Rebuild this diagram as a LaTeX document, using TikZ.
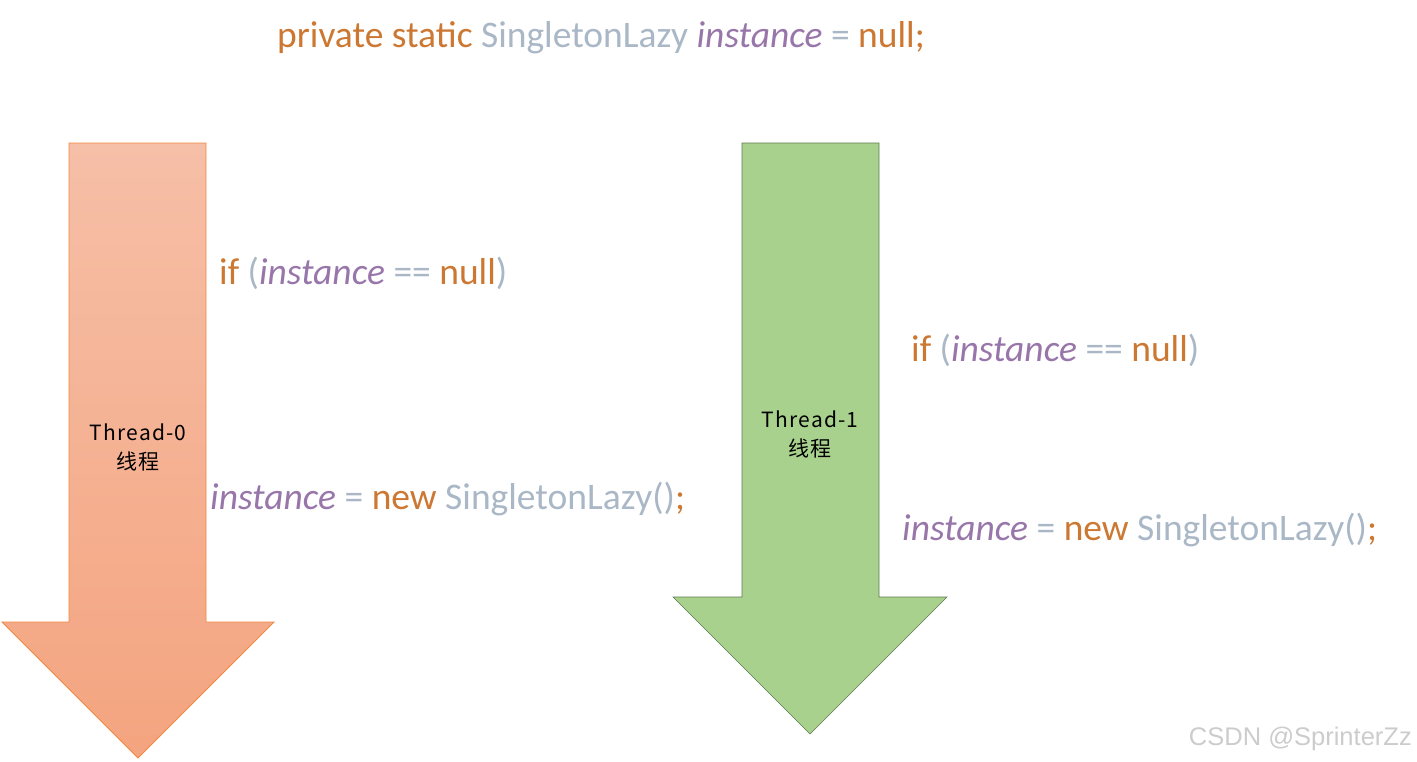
\documentclass[tikz,border=0pt]{standalone}
\usepackage{fontspec}
\setmainfont{Carlito}
\newfontfamily\cjk[LetterSpace=6]{Noto Sans CJK SC}
\newfontfamily\wm{Liberation Sans}
\definecolor{kw}{HTML}{CC7832}
\definecolor{idn}{HTML}{A9B7C6}
\definecolor{var}{HTML}{9876AA}
\definecolor{orTop}{HTML}{F6BFA7}
\definecolor{orBot}{HTML}{F4A47F}
\definecolor{orLine}{HTML}{F0883F}
\definecolor{grFill}{HTML}{A9D18E}
\definecolor{grLine}{HTML}{5E7A4E}
\begin{document}
\begin{tikzpicture}[x=1pt,y=-1pt,
  code/.style={anchor=base west,inner sep=0pt,font=\fontsize{37.5}{42}\selectfont},
  lbl/.style={align=center,inner sep=0pt,font=\cjk\fontsize{21}{29}\selectfont,text=black}]
\useasboundingbox (0,0) rectangle (1417,761);
% left arrow
\shade[top color=orTop,bottom color=orBot,draw=orLine,line width=0.8pt]
  (69,143) -- (206,143) -- (206,622) -- (274,622) -- (138,758) -- (2,622) -- (69,622) -- cycle;
% right arrow
\filldraw[fill=grFill,draw=grLine,line width=0.6pt]
  (742,143) -- (879,143) -- (879,597) -- (947,597) -- (810,734) -- (673,597) -- (742,597) -- cycle;
\node[lbl] (t0) at (138,447) {Thread-0\\线程};
\node[lbl] (t1) at (810,434) {Thread-1\\线程};
\node[code] (decl) at (277,47) {\textcolor{kw}{private static} \textcolor{idn}{SingletonLazy} \textcolor{var}{\itshape instance} \textcolor{idn}{=} \textcolor{kw}{null;}};
\node[code] (if0) at (219,284) {\textcolor{kw}{if} \textcolor{idn}{(}\textcolor{var}{\itshape instance} \textcolor{idn}{==} \textcolor{kw}{null}\textcolor{idn}{)}};
\node[code] (new0) at (210,509) {\textcolor{var}{\itshape instance} \textcolor{idn}{=} \textcolor{kw}{new} \textcolor{idn}{SingletonLazy()}\textcolor{kw}{;}};
\node[code] (if1) at (911,361) {\textcolor{kw}{if} \textcolor{idn}{(}\textcolor{var}{\itshape instance} \textcolor{idn}{==} \textcolor{kw}{null}\textcolor{idn}{)}};
\node[code] (new1) at (902,540) {\textcolor{var}{\itshape instance} \textcolor{idn}{=} \textcolor{kw}{new} \textcolor{idn}{SingletonLazy()}\textcolor{kw}{;}};
\node[anchor=base east,inner sep=0pt,font=\wm\fontsize{25.5}{30}\selectfont,text=black!20] (wm) at (1412,745) {CSDN @SprinterZz};
\end{tikzpicture}
\end{document}
